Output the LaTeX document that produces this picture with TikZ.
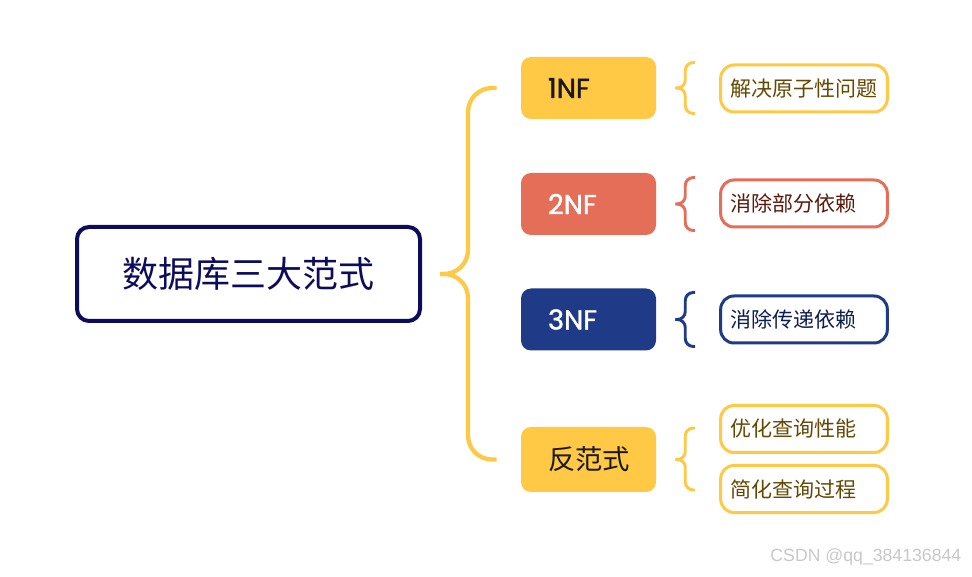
\documentclass[tikz,border=0pt]{standalone}
\usepackage{fontspec}
\usepackage{tikz}
\usetikzlibrary{calc}
\newfontfamily\cjkfont{Noto Sans CJK SC}
\newfontfamily\nffont{Poppins}[FakeBold=1.4]
\newfontfamily\wmfont{Liberation Sans}
\definecolor{rootnavy}{RGB}{12, 11, 92}
\definecolor{nfyellow}{RGB}{255, 200, 69}
\definecolor{nfcoral}{RGB}{228, 110, 88}
\definecolor{nfnavy}{RGB}{31, 58, 135}
\definecolor{txtyellow}{RGB}{100, 72, 0}
\definecolor{txtcoral}{RGB}{90, 26, 14}
\definecolor{txtnavy}{RGB}{14, 28, 80}
\definecolor{wmgray}{RGB}{200, 200, 200}

\tikzset{
	rootbox/.style={draw=rootnavy, line width=3pt, rounded corners=9pt,
		minimum width=257.25pt, minimum height=70.5pt, inner sep=0pt,
		text=rootnavy, font=\cjkfont\fontsize{27pt}{32pt}\selectfont},
	nfbox/.style={fill=#1, rounded corners=7.5pt, minimum height=46.5pt,
		inner xsep=20.25pt, inner ysep=0pt, text width=60.75pt, align=left},
	nftext/.style={font=\nffont\fontsize{20.5pt}{24pt}\selectfont},
	subbox/.style={draw=#1, line width=2.25pt, rounded corners=10pt, fill=white,
		minimum height=35.25pt, inner xsep=7pt, inner ysep=0pt,
		text width=111pt, align=left, font=\cjkfont\fontsize{15.75pt}{18pt}\selectfont},
	bigbrace/.style={draw=nfyellow, line width=3.2pt, rounded corners=18pt},
	smallbrace/.style={draw=#1, line width=2.2pt, rounded corners=6pt}
}

\begin{document}
\begin{tikzpicture}[x=0.75pt, y=-0.75pt]
		\useasboundingbox (0,0) rectangle (972,577);

		% centre
		\node[rootbox] (root) at (248.5,274) {数据库三大范式};

		% the four forms
		\node[nfbox=nfyellow, nftext, text=black!90] (nf1) at (588.5,88) {1NF};
		\node[nfbox=nfcoral, nftext, text=white] (nf2) at (588.5,204) {2NF};
		\node[nfbox=nfnavy, nftext, text=white] (nf3) at (588.5,319.5) {3NF};
		\node[nfbox=nfyellow, minimum height=48.75pt, text=black!90,
			font=\cjkfont\fontsize{20.5pt}{24pt}\selectfont] (dnf) at (588.5,459.5) {反范式};

		% leaves
		\node[subbox=nfyellow, text=txtyellow] (s1) at (804,88.5) {解决原子性问题};
		\node[subbox=nfcoral, text=txtcoral] (s2) at (804,203.5) {消除部分依赖};
		\node[subbox=nfnavy, text=txtnavy] (s3) at (804,319.5) {消除传递依赖};
		\node[subbox=nfyellow, text=txtyellow] (s4) at (804,429) {优化查询性能};
		\node[subbox=nfyellow, text=txtyellow] (s5) at (804,489) {简化查询过程};

		% big brace
		\coordinate (bigtip) at ($(root.east)+(18,0)$);
		\draw[bigbrace] (bigtip) -- ++(28,0) |- ($(nf1.west)+(-24,0)$);
		\draw[bigbrace] (bigtip) -- ++(28,0) |- ($(dnf.west)+(-24,0)$);

		% small braces
		\coordinate (t1) at ($(nf1.east)+(19,0)$);
		\draw[smallbrace=nfyellow] (t1) -- ++(10,0) |- ($(s1.north west)+(-24,-1)$);
		\draw[smallbrace=nfyellow] (t1) -- ++(10,0) |- ($(s1.south west)+(-24,0)$);

		\coordinate (t2) at ($(nf2.east)+(19,0)$);
		\draw[smallbrace=nfcoral] (t2) -- ++(10,0) |- ($(s2.north west)+(-24,-1)$);
		\draw[smallbrace=nfcoral] (t2) -- ++(10,0) |- ($(s2.south west)+(-24,2)$);

		\coordinate (t3) at ($(nf3.east)+(19,0)$);
		\draw[smallbrace=nfnavy] (t3) -- ++(10,0) |- ($(s3.north west)+(-24,-2)$);
		\draw[smallbrace=nfnavy] (t3) -- ++(10,0) |- ($(s3.south west)+(-24,2)$);

		\coordinate (t4) at ($(dnf.east)+(19,0)$);
		\draw[smallbrace=nfyellow] (t4) -- ++(10,0) |- ($(s4.west)+(-24,-1)$);
		\draw[smallbrace=nfyellow] (t4) -- ++(10,0) |- ($(s5.west)+(-24,1)$);

		\node[anchor=east, text=wmgray, font=\wmfont\fontsize{13.25pt}{15pt}\selectfont]
			(wm) at (966,557) {CSDN @qq\_384136844};
	\end{tikzpicture}
\end{document}
